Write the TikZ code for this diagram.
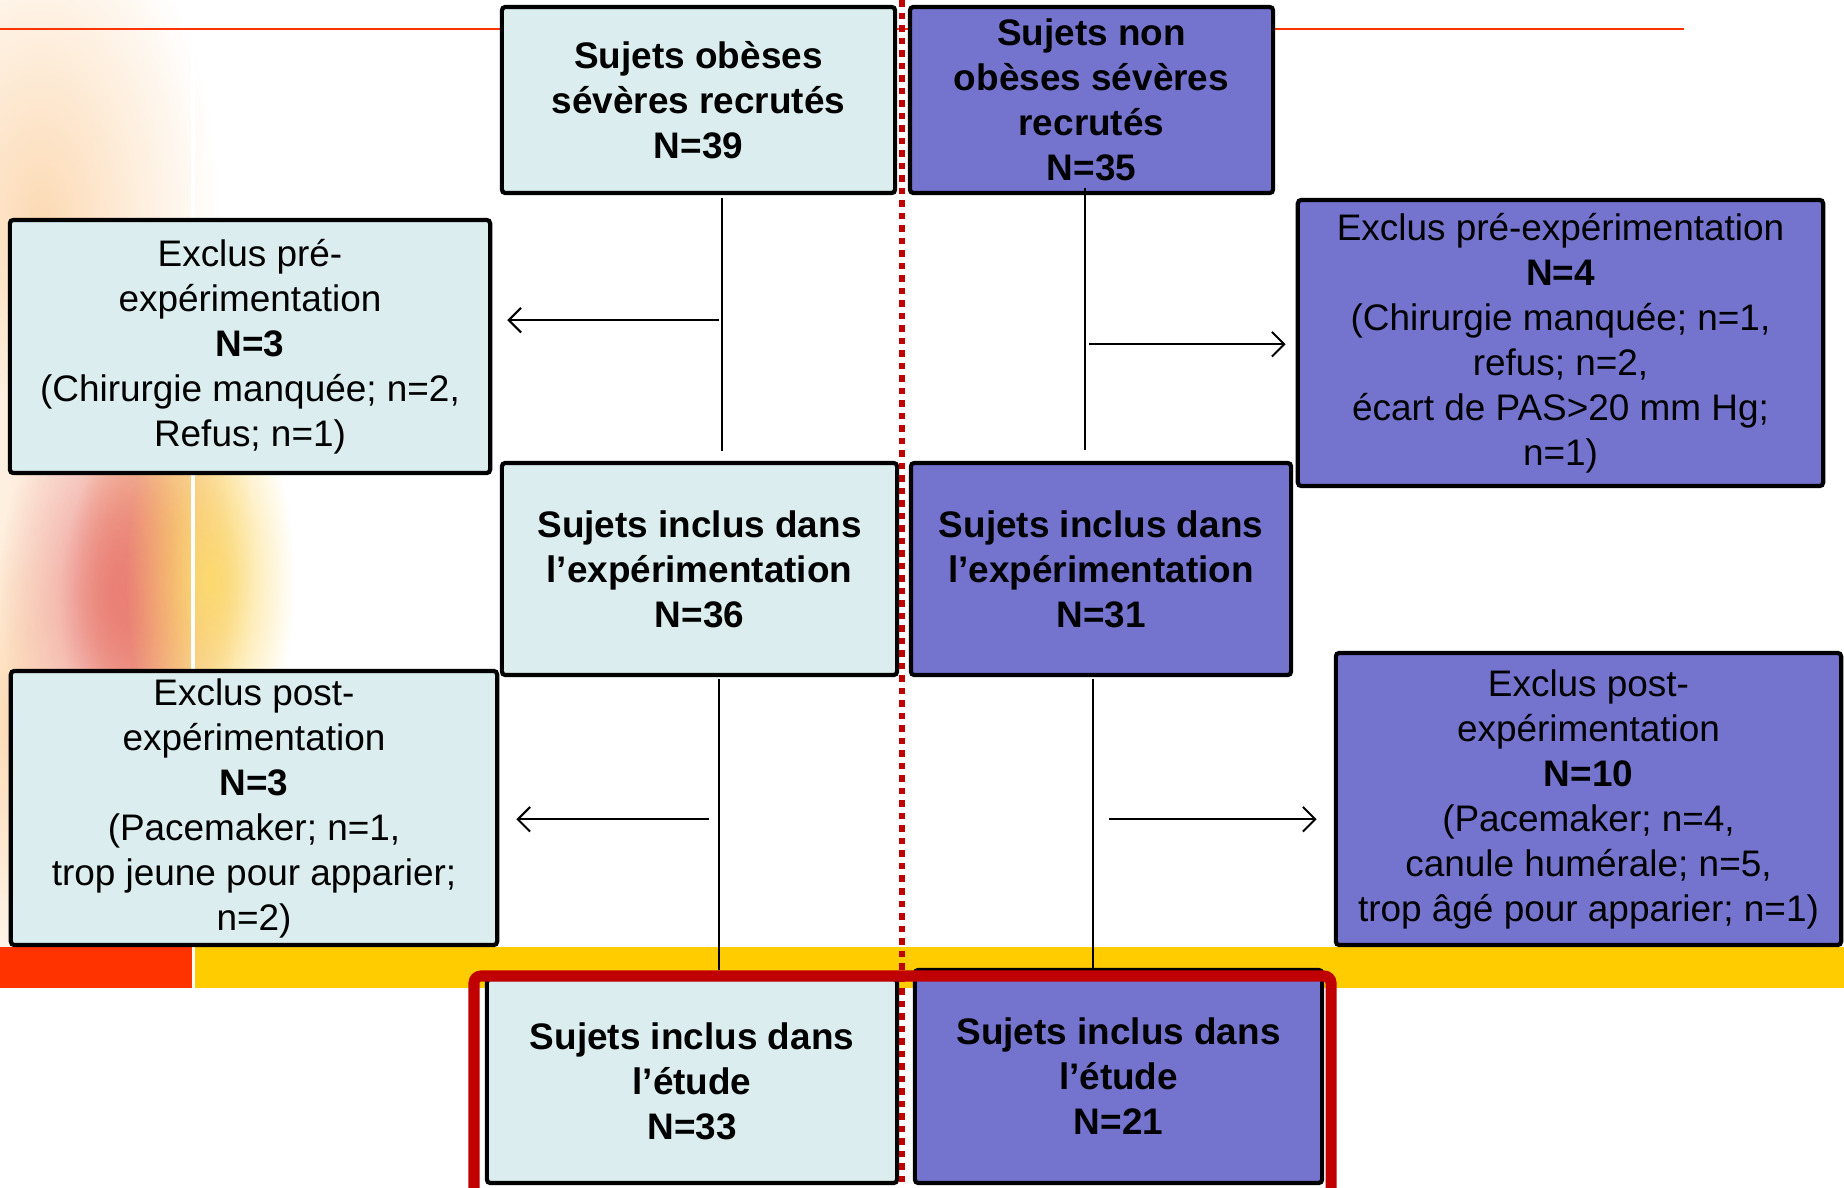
\documentclass[tikz,border=0pt]{standalone}
\usepackage{fontspec}
\setmainfont{Liberation Sans}
\usepackage{xcolor}
\usepackage{tikz}
\usetikzlibrary{arrows.meta, fadings}

\definecolor{boxcyan}{RGB}{219,237,238}
\definecolor{boxviolet}{RGB}{116,116,207}
\definecolor{framered}{RGB}{192,0,0}
\definecolor{lineorange}{RGB}{255,51,0}
\definecolor{bandyellow}{RGB}{255,204,0}
\definecolor{blobpeach}{RGB}{252,218,180}
\definecolor{blobsalmon}{RGB}{234,128,118}
\definecolor{blobamber}{RGB}{246,192,105}
\definecolor{blobyellow}{RGB}{252,218,110}

\tikzfading[name=softblob, inner color=transparent!0, outer color=transparent!100]

\begin{document}
\begin{tikzpicture}[x=0.01cm, y=-0.01cm,
    every node/.style={font=\fontsize{10.5}{12.8}\selectfont},
    lightbox/.style={draw=black, line width=1.2pt, fill=boxcyan, rounded corners=1pt, align=center, inner sep=0pt},
    violetbox/.style={lightbox, fill=boxviolet},
    headtext/.style={font=\fontsize{10.5}{12.8}\selectfont\bfseries},
    flowline/.style={line width=0.5pt},
    arrowline/.style={-{Straight Barb[length=3.5pt,width=7pt]}, line width=0.6pt}]

        \useasboundingbox (0,0) rectangle (1844,1188);

        % Draw the background blobs
        \begin{scope}
            \clip (0,0) rectangle (500,947);
            \fill[blobpeach, path fading=softblob] (40,220) ellipse (180 and 330);
            \fill[blobpeach, path fading=softblob] (10,720) ellipse (90 and 330);
            \fill[blobamber, path fading=softblob] (165,560) ellipse (90 and 240);
            \fill[blobsalmon, path fading=softblob] (120,590) ellipse (120 and 230);
            \fill[blobsalmon, path fading=softblob] (130,600) ellipse (70 and 150);
            \fill[blobyellow, path fading=softblob] (210,580) ellipse (85 and 200);
        \end{scope}
        \draw[white, line width=1pt] (193,0) -- (193,947);

        % Draw the template lines
        \draw[lineorange, line width=0.7pt] (0,29) -- (1684,29);
        \fill[lineorange] (0,947) rectangle (192,988);
        \fill[bandyellow] (195,947) rectangle (1844,988);

        % Place boxes
        \node[lightbox, headtext, minimum width=3.93cm, minimum height=1.86cm] (obeses) at (698.5,100)
            {Sujets obèses\\sévères recrutés\\N=39};
        \node[violetbox, headtext, minimum width=3.63cm, minimum height=1.86cm] (nonobeses) at (1091.5,100)
            {Sujets non\\obèses sévères\\recrutés\\N=35};

        \node[lightbox, minimum width=4.80cm, minimum height=2.53cm] (exclpreA) at (250,346.5)
            {Exclus pré-\\expérimentation\\\textbf{N=3}\\(Chirurgie manquée; n=2,\\Refus; n=1)};
        \node[violetbox, minimum width=5.25cm, minimum height=2.86cm] (exclpreB) at (1560.5,343)
            {Exclus pré-expérimentation\\\textbf{N=4}\\(Chirurgie manquée; n=1,\\refus; n=2,\\écart de PAS>20 mm Hg;\\n=1)};

        \node[lightbox, headtext, minimum width=3.95cm, minimum height=2.12cm] (inclA) at (699.5,569)
            {Sujets inclus dans\\l’expérimentation\\N=36};
        \node[violetbox, headtext, minimum width=3.80cm, minimum height=2.12cm] (inclB) at (1101,569)
            {Sujets inclus dans\\l’expérimentation\\N=31};

        \node[lightbox, minimum width=4.86cm, minimum height=2.74cm] (exclpostA) at (254,808)
            {Exclus post-\\expérimentation\\\textbf{N=3}\\(Pacemaker; n=1,\\trop jeune pour apparier;\\n=2)};
        \node[violetbox, minimum width=5.05cm, minimum height=2.92cm] (exclpostB) at (1588.5,799)
            {Exclus post-\\expérimentation\\\textbf{N=10}\\(Pacemaker; n=4,\\canule humérale; n=5,\\trop âgé pour apparier; n=1)};

        \node[lightbox, headtext, minimum width=4.10cm, minimum height=2.04cm] (etudeA) at (692,1081)
            {Sujets inclus dans\\l’étude\\N=33};
        \node[violetbox, headtext, minimum width=4.07cm, minimum height=2.13cm] (etudeB) at (1118.5,1076.5)
            {Sujets inclus dans\\l’étude\\N=21};

        % Fork and tip points
        \coordinate (forkPreA) at ([xshift=0.205cm, yshift=-1.25cm]obeses.south);
        \coordinate (tipPreA) at ([xshift=0.15cm]exclpreA.east);
        \coordinate (forkPreB) at ([xshift=-0.025cm, yshift=-1.49cm]nonobeses.south);
        \coordinate (tipPreB) at ([xshift=-0.1cm]exclpreB.west);
        \coordinate (forkPostA) at ([xshift=0.095cm, yshift=-1.42cm]inclA.south);
        \coordinate (tipPostA) at ([xshift=0.17cm]exclpostA.east);
        \coordinate (forkPostB) at ([xshift=0.08cm, yshift=-1.42cm]inclB.south);
        \coordinate (tipPostB) at ([xshift=-0.17cm]exclpostB.west);

        % Draw the connectors
        \draw[flowline] ([xshift=0.235cm, yshift=-0.03cm]obeses.south) -- ([xshift=0.225cm, yshift=0.1cm]inclA.north);
        \draw[flowline] ([xshift=-0.065cm, yshift=0.07cm]nonobeses.south) -- ([xshift=-0.16cm, yshift=0.11cm]inclB.north);
        \draw[flowline] ([xshift=0.195cm, yshift=-0.02cm]inclA.south) -- ([xshift=0.27cm, yshift=0.07cm]etudeA.north);
        \draw[flowline] ([xshift=-0.08cm, yshift=-0.02cm]inclB.south) -- ([xshift=-0.255cm]etudeB.north);

        \draw[arrowline] (forkPreA) -- (forkPreA -| tipPreA);
        \draw[arrowline] (forkPreB) -- (forkPreB -| tipPreB);
        \draw[arrowline] (forkPostA) -- (forkPostA -| tipPostA);
        \draw[arrowline] (forkPostB) -- (forkPostB -| tipPostB);

        % Draw the frame and the divider
        \draw[framered, line width=0.11cm, rounded corners=2pt] (474,976) rectangle (1331,1220);
        \draw[framered, line width=0.06cm, dash pattern=on 0.065cm off 0.06cm] (902,0) -- (902,1188);
    \end{tikzpicture}
\end{document}
